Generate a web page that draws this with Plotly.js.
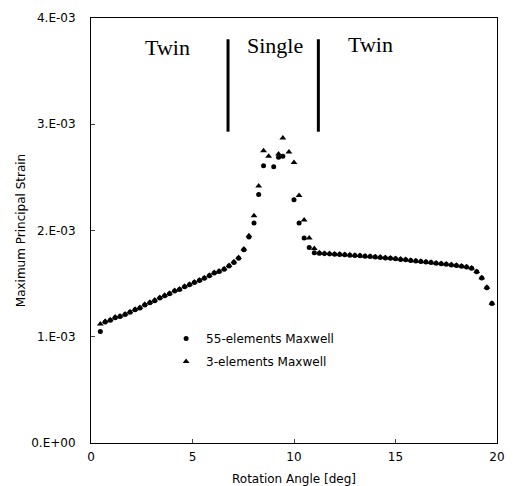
<!DOCTYPE html>
<html><head><meta charset="utf-8">
<script src="https://cdn.plot.ly/plotly-3.0.1.min.js"></script>
<style>body{margin:0;background:#fff}#chart{width:516px;height:486px}</style>
</head><body><div id="chart"></div><script>
// strain values in units of 1E-03
const angle55 = [0.46,0.70,0.95,1.19,1.43,1.68,1.92,2.17,2.41,2.65,2.90,3.14,3.39,3.63,3.87,4.12,4.36,4.61,4.85,5.09,5.34,5.58,5.83,6.07,6.31,6.56,6.80,7.04,7.27,7.53,7.78,8.03,8.26,8.50,9.00,9.24,9.45,10.00,10.25,10.50,10.75,11.00,
  11.25,11.50,11.75,12.00,12.25,12.50,12.75,13.00,13.25,13.50,13.75,14.00,14.25,14.50,14.75,15.00,15.25,15.50,15.75,16.00,16.25,16.50,16.75,17.00,17.25,17.50,17.75,18.00,18.25,18.50,18.75,19.00,19.25,19.50,19.75];
const strain55 = [1.05,1.14,1.155,1.18,1.19,1.21,1.23,1.255,1.27,1.30,1.32,1.34,1.365,1.385,1.405,1.43,1.445,1.47,1.49,1.51,1.53,1.55,1.575,1.60,1.615,1.635,1.665,1.70,1.74,1.82,1.94,2.07,2.34,2.61,2.60,2.69,2.70,2.29,2.07,1.93,1.84,1.79,
  1.785,1.782,1.780,1.777,1.775,1.772,1.768,1.765,1.762,1.758,1.755,1.750,1.747,1.742,1.738,1.733,1.728,1.724,1.718,1.713,1.708,1.703,1.698,1.692,1.687,1.682,1.676,1.670,1.664,1.657,1.645,1.612,1.552,1.462,1.312];
const angle3 = [0.46,0.70,0.95,1.19,1.43,1.68,1.92,2.17,2.41,2.65,2.90,3.14,3.39,3.63,3.87,4.12,4.36,4.61,4.85,5.09,5.34,5.58,5.83,6.07,6.31,6.56,6.80,7.04,7.27,7.53,7.78,8.03,8.26,8.50,8.75,9.24,9.45,9.75,10.00,10.25,10.50,10.75,11.00,
  11.25,11.50,11.75,12.00,12.25,12.50,12.75,13.00,13.25,13.50,13.75,14.00,14.25,14.50,14.75,15.00,15.25,15.50,15.75,16.00,16.25,16.50,16.75,17.00,17.25,17.50,17.75,18.00,18.25,18.50,18.75,19.00,19.25,19.50,19.75];
const strain3 = [1.12,1.145,1.16,1.185,1.195,1.215,1.235,1.26,1.275,1.305,1.325,1.345,1.37,1.39,1.41,1.435,1.45,1.475,1.495,1.515,1.535,1.555,1.58,1.605,1.62,1.64,1.67,1.705,1.745,1.825,1.95,2.14,2.42,2.75,2.70,2.72,2.87,2.74,2.64,2.33,2.10,1.93,1.83,
  1.79,1.786,1.783,1.780,1.778,1.775,1.771,1.768,1.765,1.761,1.758,1.753,1.750,1.745,1.741,1.736,1.731,1.727,1.721,1.716,1.711,1.706,1.701,1.695,1.690,1.685,1.679,1.673,1.667,1.660,1.648,1.615,1.555,1.465,1.315];

const seriesNames = ["55-elements Maxwell", "3-elements Maxwell"];
const xTickVals = [0,5,10,15,20];
const yTickVals = [0,1,2,3,4];
const yTickText = ["0.E+00","1.E-03","2.E-03","3.E-03","4.E-03"];

const regionNames = ["Twin","Single","Twin"];
const regionCenters = [3.78, 9.06, 13.78];
const regionLabelY = [3.72, 3.74, 3.75];
const boundaryAngles = [6.75, 11.2];
const boundaryStrainRange = [2.93, 3.80];

const traces = [
  {x: angle55, y: strain55, name: seriesNames[0], type: 'scatter', mode: 'markers',
   legendgroup: 'a', marker: {symbol: 'circle', size: 5, color: '#000'}},
  {x: angle3, y: strain3, name: seriesNames[1], type: 'scatter', mode: 'markers',
   legendgroup: 'b', marker: {symbol: 'triangle-up', size: 6, color: '#000'}}
];

const shapes = boundaryAngles.map(a => ({
  type: 'line', xref: 'x', yref: 'y', x0: a, x1: a,
  y0: boundaryStrainRange[0], y1: boundaryStrainRange[1],
  line: {color: '#000', width: 3}
}));

const annotations = regionNames.map((t, i) => ({
  x: regionCenters[i], y: regionLabelY[i], xref: 'x', yref: 'y', text: t,
  showarrow: false, xanchor: 'center', yanchor: 'middle',
  font: {family: 'Liberation Serif, Times New Roman, serif', size: 22, color: '#000'}
}));

const layout = {
  width: 516, height: 486,
  margin: {l: 91, r: 19, t: 18, b: 43},
  paper_bgcolor: '#fff', plot_bgcolor: '#fff',
  font: {family: 'DejaVu Sans, sans-serif', size: 12, color: '#000'},
  showlegend: true,
  legend: {x: 0.185, y: 0.28, xanchor: 'left', yanchor: 'top', bgcolor: 'rgba(0,0,0,0)',
    traceorder: 'grouped', tracegroupgap: 4, font: {size: 12}},
  xaxis: {range: [0, 20], tickvals: xTickVals, ticks: 'inside', ticklen: 4,
    showline: true, mirror: true, linecolor: '#000', linewidth: 1, showgrid: false, zeroline: false,
    ticklabelstandoff: 3,
    tickfont: {size: 12}, title: {text: 'Rotation Angle [deg]', font: {size: 12}, standoff: 12}},
  yaxis: {range: [0, 4], tickvals: yTickVals, ticktext: yTickText, ticks: 'inside', ticklen: 4,
    showline: true, mirror: true, linecolor: '#000', linewidth: 1, showgrid: false, zeroline: false,
    ticklabelstandoff: 12,
    tickfont: {size: 12}, title: {text: 'Maximum Principal Strain', font: {size: 12}, standoff: 3}},
  shapes: shapes,
  annotations: annotations
};

Plotly.newPlot('chart', traces, layout, {staticPlot: true, displayModeBar: false});
</script></body></html>
